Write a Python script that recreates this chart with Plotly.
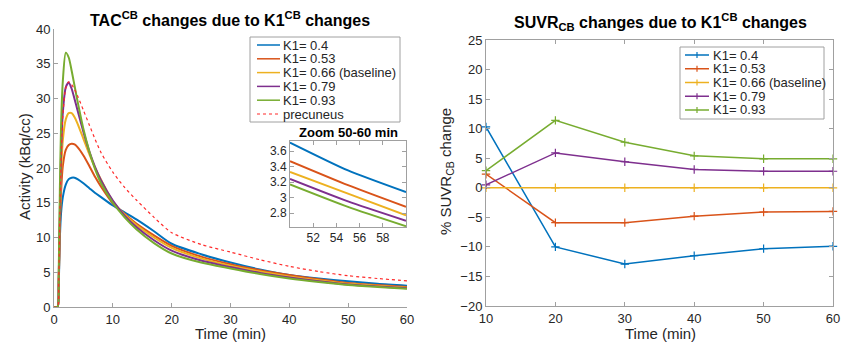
import plotly.graph_objects as go

W, H = 842, 345

# ---------------- data ----------------
time_tac = [0, 0.6, 0.8, 1.0, 1.2, 1.5, 2.0, 2.5, 3.0, 3.5, 4, 5, 6, 7, 8, 10, 12, 14, 17, 20,
            25, 30, 35, 40, 45, 50, 55, 60]
tac_k1_040 = [0, 0, 3, 10, 13.5, 15.8, 17.6, 18.4, 18.6, 18.6, 18.4, 17.8, 17.1, 16.4, 15.8, 14.6,
              13.6, 12.6, 10.9, 9.1, 7.6, 6.4, 5.4, 4.6, 4.1, 3.71, 3.35, 3.07]
tac_k1_053 = [0, 0, 3.2, 11.5, 16.5, 20.3, 22.6, 23.3, 23.5, 23.4, 23.0, 21.8, 20.3, 18.7, 17.3, 14.9,
              13.4, 12.0, 10.3, 8.8, 7.25, 6.15, 5.3, 4.6, 4.0, 3.47, 3.16, 2.88]
tac_k1_066 = [0, 0, 3.5, 12.5, 19, 24, 27.0, 27.9, 27.9, 27.3, 26.4, 24.2, 22.0, 20.0, 18.3, 15.2,
              13.3, 11.8, 10.0, 8.5, 7.0, 5.95, 5.1, 4.4, 3.85, 3.33, 3.05, 2.77]
tac_k1_079 = [0, 0, 4, 14, 22, 28, 31.6, 32.3, 31.4, 29.9, 28.3, 25.2, 22.4, 20.1, 18.2, 15.3,
              13.15, 11.5, 9.6, 8.1, 6.7, 5.75, 4.9, 4.25, 3.7, 3.24, 2.95, 2.70]
tac_k1_093 = [0, 0, 5, 17, 26, 32.5, 36.6, 35.9, 34.0, 31.8, 29.6, 25.6, 22.4, 19.8, 17.8, 15.0,
              12.9, 11.2, 9.2, 7.7, 6.4, 5.55, 4.75, 4.1, 3.6, 3.17, 2.88, 2.63]
tac_precuneus = [0, 0, 4, 13.5, 21, 27.5, 31.5, 32.4, 32.0, 31.3, 30.4, 28.3, 26.2, 24.1, 22.2, 19.4,
                 17.2, 15.4, 12.9, 10.7, 9.0, 7.9, 6.8, 5.85, 5.1, 4.5, 4.1, 3.75]

time_suvr = [10, 20, 30, 40, 50, 60]
suvr_k1_040 = [10.3, -10.0, -12.9, -11.5, -10.3, -9.9]
suvr_k1_053 = [2.3, -5.9, -5.9, -4.8, -4.1, -4.0]
suvr_k1_066 = [0, 0, 0, 0, 0, 0]
suvr_k1_079 = [0.5, 5.9, 4.4, 3.1, 2.8, 2.8]
suvr_k1_093 = [2.9, 11.4, 7.7, 5.4, 4.9, 4.9]

k1_labels = ["K1= 0.4", "K1= 0.53", "K1= 0.66 (baseline)", "K1= 0.79", "K1= 0.93"]
ref_label = "precuneus"
tac_x_ticks = [0, 10, 20, 30, 40, 50, 60]
tac_y_ticks = [0, 5, 10, 15, 20, 25, 30, 35, 40]
zoom_x_ticks = [52, 54, 56, 58]
zoom_y_ticks = [2.8, 3.0, 3.2, 3.4, 3.6]
zoom_y_labels = ["2.8", "3", "3.2", "3.4", "3.6"]
suvr_x_ticks = [10, 20, 30, 40, 50, 60]
suvr_y_ticks = [-20, -15, -10, -5, 0, 5, 10, 15, 20, 25]

# ---------------- styles ----------------
colors = ["#0072BD", "#D95319", "#EDB120", "#7E2F8E", "#77AC30"]
ref_color = "#FF2A2A"
FONT = "Liberation Sans, Arial, Helvetica, sans-serif"
TXT = "#262626"
AX = "#A0A0A0"


def px(x):
    return x / W


def py(y):
    return (H - y) / H


tac_series = [tac_k1_040, tac_k1_053, tac_k1_066, tac_k1_079, tac_k1_093]
suvr_series = [suvr_k1_040, suvr_k1_053, suvr_k1_066, suvr_k1_079, suvr_k1_093]

fig = go.Figure()

# left main curves
for ys, c, lab in zip(tac_series, colors, k1_labels):
    fig.add_trace(go.Scatter(x=time_tac, y=ys, mode="lines", name=lab,
                             line=dict(color=c, width=2, shape="spline", smoothing=0.7),
                             xaxis="x", yaxis="y", showlegend=False))
fig.add_trace(go.Scatter(x=time_tac, y=tac_precuneus, mode="lines", name=ref_label,
                         line=dict(color=ref_color, width=1.2, dash="dot", shape="spline", smoothing=0.7),
                         xaxis="x", yaxis="y", showlegend=False))

# inset curves (50-60 min)
zi = [i for i, tt in enumerate(time_tac) if tt >= 50]
for ys, c, lab in zip(tac_series, colors, k1_labels):
    fig.add_trace(go.Scatter(x=[time_tac[i] for i in zi], y=[ys[i] for i in zi], mode="lines",
                             line=dict(color=c, width=2, shape="spline", smoothing=0.6),
                             xaxis="x3", yaxis="y3", showlegend=False))

# right curves
for ys, c, lab in zip(suvr_series, colors, k1_labels):
    fig.add_trace(go.Scatter(x=time_suvr, y=ys, mode="lines+markers", name=lab,
                             line=dict(color=c, width=1.5),
                             marker=dict(symbol="cross-thin", size=6, line=dict(color=c, width=1.2)),
                             cliponaxis=False,
                             xaxis="x2", yaxis="y2", showlegend=False))

tickfont = dict(family=FONT, size=13, color=TXT)
common = dict(showgrid=False, zeroline=False, showline=True, linecolor=AX, linewidth=1,
              ticks="inside", ticklen=4, tickcolor=AX, tickfont=tickfont, automargin=False)
small = {**common, "tickfont": dict(family=FONT, size=12, color=TXT)}

fig.update_layout(
    width=W, height=H,
    margin=dict(l=0, r=0, t=0, b=0, pad=0),
    paper_bgcolor="white", plot_bgcolor="white",
    xaxis=dict(domain=[px(54), px(407)], range=[0, 60], tickvals=tac_x_ticks, anchor="y", **common),
    yaxis=dict(domain=[py(307), py(29)], range=[0, 40], tickvals=tac_y_ticks, anchor="x", **common),
    xaxis2=dict(domain=[px(486), px(833)], range=[10, 60], tickvals=suvr_x_ticks, anchor="y2",
                mirror="ticks", **common),
    yaxis2=dict(domain=[py(306), py(40)], range=[-20, 25], tickvals=suvr_y_ticks, anchor="x2",
                mirror="ticks", **common),
    xaxis3=dict(domain=[px(290), px(406)], range=[50, 60], tickvals=zoom_x_ticks, anchor="y3",
                mirror="ticks", **small),
    yaxis3=dict(domain=[py(227), py(141)], range=[2.62, 3.73], tickvals=zoom_y_ticks,
                ticktext=zoom_y_labels, anchor="x3", mirror="ticks", **small),
    showlegend=False,
)

ann = []
title_font = dict(family=FONT, size=16, color="#000000")
ann.append(dict(text="<b>TAC<sup>CB</sup> changes due to K1<sup>CB</sup> changes</b>",
                x=px(230), y=py(19), xref="paper", yref="paper", showarrow=False,
                xanchor="center", yanchor="middle", font=title_font))
ann.append(dict(text="<b>SUVR<sub>CB</sub> changes due to K1<sup>CB</sup> changes</b>",
                x=px(660), y=py(22), xref="paper", yref="paper", showarrow=False,
                xanchor="center", yanchor="middle", font=title_font))
ann.append(dict(text="<b>Zoom 50-60 min</b>", x=px(348), y=py(133), xref="paper", yref="paper",
                showarrow=False, xanchor="center", yanchor="middle",
                font=dict(family=FONT, size=13, color="#000000")))
axt = dict(family=FONT, size=15, color=TXT)
ann.append(dict(text="Time (min)", x=px(230), y=py(333), xref="paper", yref="paper", showarrow=False,
                xanchor="center", yanchor="middle", font=axt))
ann.append(dict(text="Time (min)", x=px(660), y=py(333), xref="paper", yref="paper", showarrow=False,
                xanchor="center", yanchor="middle", font=axt))
ann.append(dict(text="Activity (kBq/cc)", x=px(24), y=py(167), xref="paper", yref="paper",
                showarrow=False, textangle=-90, xanchor="center", yanchor="middle", font=axt))
ann.append(dict(text="% SUVR<sub>CB</sub> change", x=px(446), y=py(172), xref="paper", yref="paper",
                showarrow=False, textangle=-90, xanchor="center", yanchor="middle", font=axt))

shapes = []
leg_font = dict(family=FONT, size=13, color=TXT)
# left legend
shapes.append(dict(type="rect", xref="paper", yref="paper", x0=px(250), x1=px(400), y0=py(122), y1=py(37),
                   line=dict(color=AX, width=1), fillcolor="white", layer="above"))
leg_labels_left = k1_labels + [ref_label]
leg_colors_left = colors + [ref_color]
for i, (lab, c) in enumerate(zip(leg_labels_left, leg_colors_left)):
    yy = 45 + i * 13.8
    dash = "dot" if lab == ref_label else "solid"
    shapes.append(dict(type="line", xref="paper", yref="paper", x0=px(257), x1=px(280), y0=py(yy), y1=py(yy),
                       line=dict(color=c, width=1.5 if dash == "solid" else 1.2, dash=dash), layer="above"))
    ann.append(dict(text=lab, x=px(281), y=py(yy), xref="paper", yref="paper", showarrow=False,
                    xanchor="left", yanchor="middle", font=leg_font))
# right legend
shapes.append(dict(type="rect", xref="paper", yref="paper", x0=px(680), x1=px(824), y0=py(119), y1=py(47),
                   line=dict(color=AX, width=1), fillcolor="white", layer="above"))
for i, (lab, c) in enumerate(zip(k1_labels, colors)):
    yy = 55 + i * 13.75
    shapes.append(dict(type="line", xref="paper", yref="paper", x0=px(685), x1=px(709), y0=py(yy), y1=py(yy),
                       line=dict(color=c, width=1.5), layer="above"))
    shapes.append(dict(type="line", xref="paper", yref="paper", x0=px(697), x1=px(697), y0=py(yy - 3),
                       y1=py(yy + 3), line=dict(color=c, width=1.2), layer="above"))
    ann.append(dict(text=lab, x=px(711), y=py(yy), xref="paper", yref="paper", showarrow=False,
                    xanchor="left", yanchor="middle", font=leg_font))

fig.update_layout(annotations=ann, shapes=shapes)
fig.write_html("out.html", config={"displayModeBar": False},
               post_script="document.body.style.margin='0px';document.body.style.overflow='hidden';")
